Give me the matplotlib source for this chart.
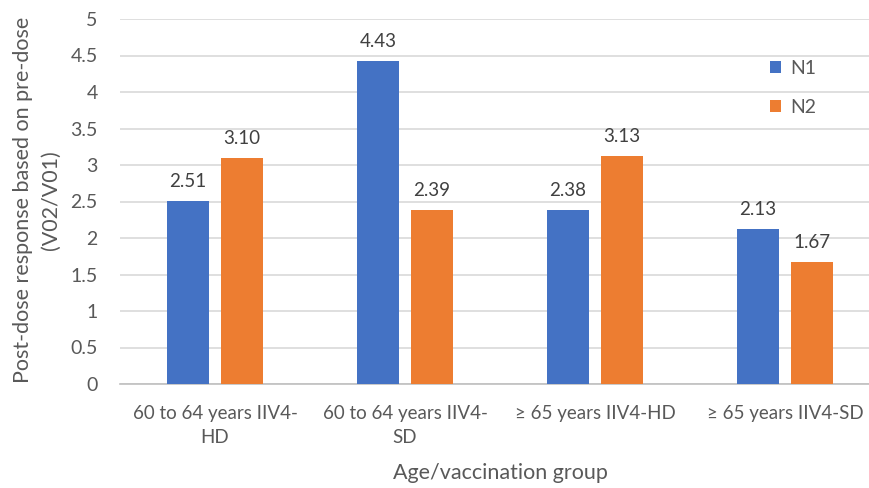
import matplotlib
import numpy as np

matplotlib.use("Agg")
import matplotlib.pyplot as plt

categories = ["60 to 64 years IIV4-\nHD", "60 to 64 years IIV4-\nSD", "≥ 65 years IIV4-HD", "≥ 65 years IIV4-SD"]
n1_values = [2.51, 4.43, 2.38, 2.13]
n2_values = [3.10, 2.39, 3.13, 1.67]
series_names = ["N1", "N2"]
y_ticks = [0, 0.5, 1, 1.5, 2, 2.5, 3, 3.5, 4, 4.5, 5]

BLUE = "#4472c4"
ORANGE = "#ed7d31"
TEXT = "#595959"

plt.rcParams["font.family"] = ["Lato", "DejaVu Sans"]

fig = plt.figure(figsize=(8.69, 4.88), dpi=100)
W, H = 869, 488
left, right, top, bottom = 120, 880, 19, 384
ax = fig.add_axes([left / W, 1 - bottom / H, (right - left) / W, (bottom - top) / H])

x = np.arange(len(categories))
width = 0.226
offset = 0.142
b1 = ax.bar(x - offset, n1_values, width, color=BLUE, label=series_names[0], zorder=3)
b2 = ax.bar(x + offset, n2_values, width, color=ORANGE, label=series_names[1], zorder=3)

# value labels above each bar
for bars, vals in ((b1, n1_values), (b2, n2_values)):
    for bar, v in zip(bars, vals):
        ax.text(bar.get_x() + bar.get_width() / 2, v + 0.15, f"{v:.2f}",
                ha="center", va="bottom", fontsize=13.5, color="#404040")

ax.set_xlim(-0.5, 3.5)
ax.set_ylim(0, 5)
ax.set_yticks(y_ticks)
ax.set_yticklabels([f"{t:g}" for t in y_ticks])
ax.yaxis.grid(True, color="#d9d9d9", linewidth=1.2, zorder=0)
ax.set_xticks(x)
ax.set_xticklabels(categories, fontsize=13.5, color=TEXT, linespacing=1.5)
ax.tick_params(axis="y", length=0, labelsize=14, labelcolor=TEXT, pad=16)
ax.tick_params(axis="x", length=0, pad=15)
for side in ("top", "right", "left"):
    ax.spines[side].set_visible(False)
ax.spines["bottom"].set_color("#bfbfbf")
ax.spines["bottom"].set_linewidth(1.2)

fig.text(37 / W, 1 - 200 / H, "Post-dose response based on pre-dose\n(V02/V01)",
         rotation=90, ha="center", va="center", fontsize=15.5, color=TEXT, linespacing=1.5)
fig.text(500 / W, 1 - 473 / H, "Age/vaccination group", ha="center", va="center",
         fontsize=15.5, color=TEXT)

leg = ax.legend(loc="upper left", bbox_to_anchor=((762 - left) / (right - left), 1 - 33 / (bottom - top)),
                frameon=False, fontsize=14, labelspacing=1.15, handlelength=0.6,
                handleheight=0.6, handletextpad=0.45, borderaxespad=0)
for t in leg.get_texts():
    t.set_color(TEXT)

fig.savefig("out.png", dpi=100)
